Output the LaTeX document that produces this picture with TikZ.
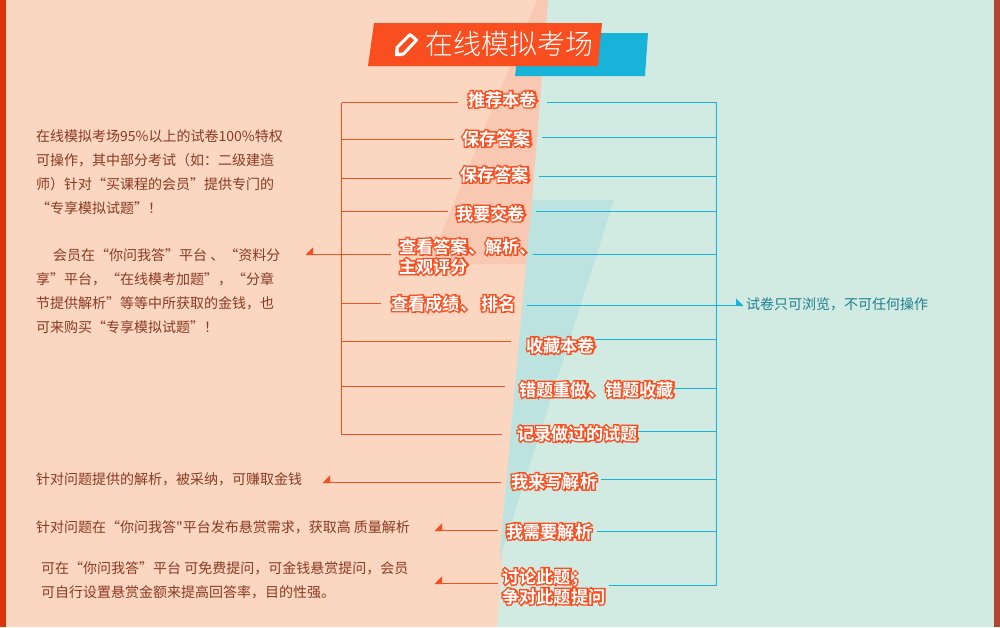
\documentclass[tikz,border=0pt]{standalone}
\usepackage{fontspec}
\usepackage{xcolor}
\setmainfont{Noto Sans CJK SC}
\newfontfamily\tagfont{Noto Sans CJK SC Bold}
\newfontfamily\titlefont{Noto Sans CJK SC Light}
\newfontfamily\plainfont{Noto Sans CJK SC}
\usetikzlibrary{arrows.meta}

\definecolor{peachbg}{HTML}{FBD6C0}
\definecolor{peachdark}{HTML}{F9C8B2}
\definecolor{mintbg}{HTML}{D2EBE2}
\definecolor{mintdark}{HTML}{BCE3DF}
\definecolor{redbar}{HTML}{D8350A}
\definecolor{brownbar}{HTML}{AE4630}
\definecolor{redline}{HTML}{F94E1F}
\definecolor{blueline}{HTML}{17B3D8}
\definecolor{bodytext}{HTML}{8B3A22}
\definecolor{tealtext}{HTML}{1E7F8F}

\newcommand{\tagtext}[1]{\rlap{\special{pdf:code 2 Tr 2.8 w 0.976 0.306 0.122 RG 0.976 0.306 0.122 rg}#1\special{pdf:code 0 Tr 0 w}}\textcolor{white}{#1}}

\tikzset{
  tagbox/.style={anchor=base west, inner sep=0pt, font=\tagfont\fontsize{17.2}{21}\selectfont},
  para/.style={anchor=north west, inner sep=0pt, align=left, text=bodytext, font=\fontsize{14}{24}\selectfont},
  redlink/.style={draw=redline, line width=1pt},
  bluelink/.style={draw=blueline, line width=1pt},
  redarrow/.style={redlink, -{Triangle[right, length=7pt, width=14pt]}},
  bluearrow/.style={bluelink, -{Triangle[left, length=7pt, width=14pt]}}
}

\begin{document}
\begin{tikzpicture}[x=1pt, y=-1pt]
	\useasboundingbox (0,0) rectangle (1000,627);
	% background
	\fill[peachbg] (0,0) rectangle (1000,627);
	\fill[mintbg] (548,0) -- (1000,0) -- (1000,627) -- (497,627) -- cycle;
	\fill[peachdark] (537,0) -- (548,0) -- (527,264) -- (429,264) -- cycle;
	\fill[mintdark] (532,200) -- (614,200) -- (499,562) -- cycle;
	\fill[redbar] (0,0) rectangle (6,627);
	\fill[brownbar] (994,0) rectangle (1000,627);
	
	% title
	\fill[blueline] (520,33) -- (648,33) -- (645,76) -- (515,76) -- cycle;
	\fill[redline] (374,23) -- (602,23) -- (598,66) -- (368,66) -- cycle;
	\draw[white, line width=3pt, line join=round] (397,54) -- (397,47.5) -- (410,34.5) -- (416.5,40) -- (403.5,54) -- cycle;
	\fill[white] (395,56) -- (395,49) -- (402,56) -- cycle;
	\node[anchor=base west, inner sep=0pt, text=white, font=\titlefont\fontsize{28}{32}\selectfont] (title) at (425,54) {在线模拟考场};
	
	% labels
	\node[tagbox] (a1) at (468,106) {\tagtext{推荐本卷}};
	\node[tagbox] (a2) at (462,145) {\tagtext{保存答案}};
	\node[tagbox] (a3) at (460,181) {\tagtext{保存答案}};
	\node[tagbox] (a4) at (456,220) {\tagtext{我要交卷}};
	\node[tagbox] (a5) at (399,253) {\tagtext{查看答案、解析、}};
	\node[tagbox] (a5b) at (399,273) {\tagtext{主观评分}};
	\node[tagbox] (a6) at (391,310) {\tagtext{查看成绩、 排名}};
	\node[tagbox] (a7) at (526,352) {\tagtext{收藏本卷}};
	\node[tagbox] (a8) at (519,396) {\tagtext{错题重做、错题收藏}};
	\node[tagbox] (a9) at (517,440) {\tagtext{记录做过的试题}};
	\node[tagbox] (b1) at (511,488) {\tagtext{我来写解析}};
	\node[tagbox] (b2) at (506,538) {\tagtext{我需要解析}};
	\node[tagbox] (b3) at (502,583) {\tagtext{讨论此题；}};
	\node[tagbox] (b3b) at (502,603) {\tagtext{争对此题提问}};
	
	% descriptions
	\node[para] (p1) at (36,129) {在线模拟考场95\%以上的试卷100\%特权\\可操作，其中部分考试（如：二级建造\\师）针对“买课程的会员”提供专门的\\“专享模拟试题”！};
	\node[para] (p2) at (36,248) {\hspace{17pt}会员在“你问我答”平台 、“资料分\\享”平台，“在线模考加题”，“分章\\节提供解析”等等中所获取的金钱，也\\可来购买“专享模拟试题”！};
	\node[para] (p3) at (36,472) {针对问题提供的解析，被采纳，可赚取金钱};
	\node[para] (p4) at (36,520) {针对问题在“你问我答{\plainfont"}平台发布悬赏需求，获取高 质量解析};
	\node[para] (p5) at (41,561) {可在“你问我答”平台 可免费提问，可金钱悬赏提问，会员\\可自行设置悬赏金额来提高回答率，目的性强。};
	\node[anchor=west, inner sep=0pt, text=tealtext, font=\fontsize{14}{18}\selectfont] (p6) at (746,304) {试卷只可浏览，不可任何操作};
	
	\begin{scope}[shift={(0.5,0.5)}]
	% left bracket
	\coordinate (lt) at (341,102);
	\coordinate (l2) at (341,139);
	\coordinate (l3) at (341,178);
	\coordinate (l4) at (341,211);
	\coordinate (l6) at (341,303);
	\coordinate (l7) at (341,341);
	\coordinate (l8) at (341,386);
	\coordinate (lb) at (341,434);
	\coordinate (h5) at (305,254);
	\coordinate (h1) at (322,482);
	\coordinate (h2) at (434,530);
	\coordinate (h3) at (434,583);
	\path[redlink] (lt) -- (lb);
	\path[redlink] (lt) -- ([xshift=-10pt]a1.west |- lt);
	\path[redlink] (l2) -- ([xshift=-8pt]a2.west |- l2);
	\path[redlink] (l3) -- ([xshift=-8pt]a3.west |- l3);
	\path[redlink] (l4) -- ([xshift=-8pt]a4.west |- l4);
	\path[redlink] (l6) -- ([xshift=-10pt]a6.west |- l6);
	\path[redlink] (l7) -- ([xshift=-15pt]a7.west |- l7);
	\path[redlink] (l8) -- ([xshift=-14pt]a8.west |- l8);
	\path[redlink] (lb) -- ([xshift=-15pt]a9.west |- lb);
	\path[redarrow] ([xshift=-8pt]a5.west |- h5) -- (h5);
	\path[redarrow] ([xshift=-10pt]b1.west |- h1) -- (h1);
	\path[redarrow] ([xshift=-8pt]b2.west |- h2) -- (h2);
	\path[redarrow] ([xshift=-4pt]b3.west |- h3) -- (h3);
	
	% right bracket
	\coordinate (rt) at (716,102);
	\coordinate (r2) at (716,137);
	\coordinate (r3) at (716,176);
	\coordinate (r4) at (716,211);
	\coordinate (r5) at (716,254);
	\coordinate (r7) at (716,339);
	\coordinate (r8) at (716,388);
	\coordinate (r9) at (716,431);
	\coordinate (s1) at (716,479);
	\coordinate (s2) at (716,531);
	\coordinate (rb) at (716,585);
	\coordinate (t6) at (743,305);
	\path[bluelink] (rt) -- (rb);
	\path[bluelink] ([xshift=10pt]a1.east |- rt) -- (rt);
	\path[bluelink] ([xshift=11pt]a2.east |- r2) -- (r2);
	\path[bluelink] ([xshift=10pt]a3.east |- r3) -- (r3);
	\path[bluelink] ([xshift=11pt]a4.east |- r4) -- (r4);
	\path[bluelink] ([xshift=-4pt]a5.east |- r5) -- (r5);
	\path[bluelink] ([xshift=0pt]a7.east |- r7) -- (r7);
	\path[bluelink] ([xshift=0pt]a8.east |- r8) -- (r8);
	\path[bluelink] ([xshift=0pt]a9.east |- r9) -- (r9);
	\path[bluelink] ([xshift=4pt]b1.east |- s1) -- (s1);
	\path[bluelink] ([xshift=5pt]b2.east |- s2) -- (s2);
	\path[bluelink] ([xshift=3pt]b3b.east |- rb) -- (rb);
	\path[bluearrow] ([xshift=11pt]a6.east |- t6) -- (t6);
	\end{scope}
\end{tikzpicture}
\end{document}
